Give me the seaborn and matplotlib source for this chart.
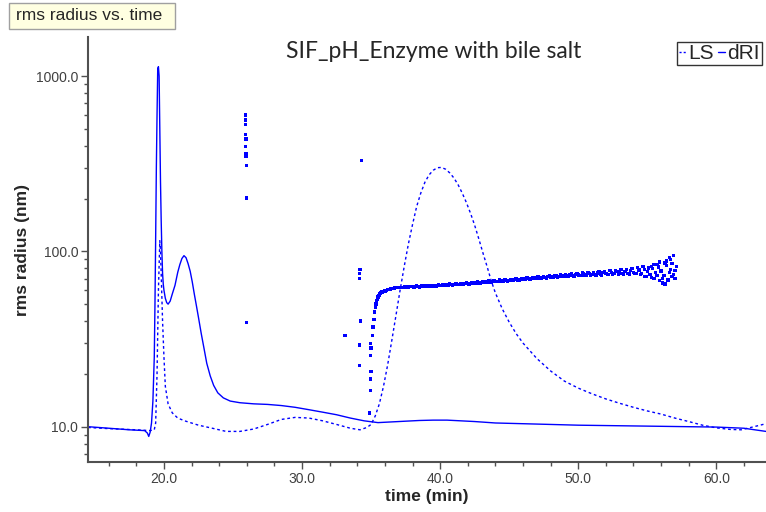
import numpy as np
import pandas as pd
import matplotlib
matplotlib.use("Agg")
import matplotlib.pyplot as plt
import seaborn as sns
from matplotlib.ticker import MultipleLocator, FuncFormatter, LogLocator, NullFormatter
from matplotlib.lines import Line2D
from matplotlib.patches import Rectangle

sns.set_style("ticks")
plt.rcParams['font.family'] = ['Liberation Sans', 'DejaVu Sans']

# ---------------- data ----------------
dri_time = [14.5, 16.0, 17.5, 18.6, 18.8, 18.9, 19.0, 19.1, 19.2, 19.3, 19.35, 19.4, 19.45,
            19.5, 19.55, 19.6, 19.65, 19.7, 19.75, 19.8, 19.85, 19.9, 19.95, 20.0, 20.1,
            20.2, 20.3, 20.45, 20.6, 20.8, 21.0, 21.15, 21.3, 21.45, 21.6, 21.75, 21.9,
            22.05, 22.2, 22.35, 22.5, 22.7, 22.9, 23.1, 23.35, 23.6, 23.9, 24.3, 24.8,
            25.5, 26.5, 27.5, 28.5, 29.5, 30.5, 31.5, 32.5, 33.5, 34.5, 35.5, 36.5,
            37.5, 38.5, 39.5, 40.5, 41.5, 42.5, 44.0, 46.0, 48.0, 50.0, 52.0, 54.0, 56.0,
            58.0, 60.0, 62.0, 63.6]
dri_value = [10.0, 9.8, 9.6, 9.5, 9.2, 8.8, 9.3, 10.5, 14.0, 25.0, 50.0, 120.0, 300.0,
             600.0, 1100.0, 1130.0, 1000.0, 500.0, 250.0, 150.0, 100.0, 75.0, 65.0, 60.0, 54.0,
             51.0, 50.0, 52.0, 57.0, 64.0, 76.0, 84.0, 91.0, 94.5, 92.0, 85.0, 77.0,
             67.0, 57.0, 49.0, 42.0, 34.0, 28.0, 23.0, 19.5, 17.2, 15.6, 14.6, 14.0,
             13.7, 13.5, 13.4, 13.2, 12.9, 12.5, 12.1, 11.7, 11.2, 10.8, 10.55, 10.65,
             10.75, 10.85, 10.9, 10.9, 10.8, 10.7, 10.5, 10.4, 10.3, 10.2, 10.15, 10.1, 10.05,
             10.0, 9.95, 9.8, 9.4]

ls_time = [14.5, 16.0, 18.0, 19.0, 19.3, 19.4, 19.5, 19.6, 19.7, 19.75, 19.8, 19.9, 20.0,
           20.1, 20.3, 20.6, 21.0, 21.5, 22.5, 23.5, 24.5, 25.5, 26.5, 27.5, 28.5, 29.5,
           30.5, 31.5, 32.5, 33.5, 34.2, 34.7, 35.0, 35.3, 35.6, 35.9, 36.2, 36.5, 36.8,
           37.1, 37.4, 37.7, 38.0, 38.3, 38.6, 38.9, 39.2, 39.5, 39.8, 40.1, 40.4, 40.7,
           41.0, 41.3, 41.6, 41.9, 42.2, 42.5, 42.8, 43.1, 43.4, 43.7, 44.0, 44.5, 45.0,
           45.5, 46.0, 47.0, 48.0, 49.0, 50.0, 51.0, 52.0, 53.0, 54.0, 55.0, 56.0, 57.0,
           58.0, 59.0, 60.0, 61.0, 61.8, 62.5, 63.6]
ls_value = [9.9, 9.75, 9.6, 9.5, 9.6, 10.5, 20.0, 60.0, 115.0, 100.0, 75.0, 40.0, 25.0,
            17.0, 13.5, 12.0, 11.2, 10.8, 10.2, 9.8, 9.4, 9.4, 9.7, 10.3, 11.0, 11.3,
            11.2, 10.8, 10.3, 9.8, 9.6, 9.9, 10.3, 11.5, 13.5, 17.0, 22.5, 31.0, 43.0,
            60.0, 82.0, 110.0, 142.0, 180.0, 215.0, 248.0, 273.0, 290.0, 300.0, 301.0, 294.0, 280.0,
            262.0, 240.0, 215.0, 190.0, 165.0, 141.0, 118.0, 98.0, 82.0, 68.0, 58.0, 47.0, 39.5,
            34.0, 30.0, 24.5, 20.8, 18.2, 16.6, 15.4, 14.4, 13.6, 12.9, 12.3, 11.8, 11.2,
            10.7, 10.2, 9.85, 9.65, 9.6, 9.9, 10.4]

rms_time = [
    # isolated points
    25.92, 25.92, 25.92, 25.92, 25.94, 25.92, 25.94, 25.94, 25.96, 25.96, 25.96,
    34.30, 34.20, 34.15, 34.15, 34.25, 33.10, 34.15, 34.15,
    34.95, 35.00, 34.95, 35.00, 34.95, 34.95, 34.90,
    # onset
    35.10, 35.15, 35.20, 35.25, 35.30, 35.35, 35.40, 35.45, 35.50, 35.55, 35.60, 35.65,
    35.70, 35.80, 35.90, 36.00, 36.10, 36.20, 36.30, 36.40, 36.50, 36.60, 36.70, 36.80,
    36.90, 37.00, 37.10,
    # main band, row 1
    37.2, 37.4, 37.6, 37.8, 38.0, 38.2, 38.4, 38.6, 38.8, 39.0,
    39.2, 39.4, 39.6, 39.8, 40.0, 40.2, 40.4, 40.6, 40.8, 41.0,
    41.2, 41.4, 41.6, 41.8, 42.0, 42.2, 42.4, 42.6, 42.8, 43.0,
    43.2, 43.4, 43.6, 43.8, 44.0, 44.2, 44.4, 44.6, 44.8, 45.0,
    45.2, 45.4, 45.6, 45.8, 46.0, 46.2, 46.4, 46.6, 46.8, 47.0,
    47.2, 47.4, 47.6, 47.8, 48.0, 48.2, 48.4, 48.6, 48.8, 49.0,
    49.2, 49.4, 49.6, 49.8, 50.0, 50.2, 50.4, 50.6, 50.8, 51.0,
    51.2, 51.4, 51.6, 51.8, 52.0, 52.2, 52.4, 52.6, 52.8, 53.0,
    53.2, 53.4, 53.6, 53.8, 54.0, 54.2, 54.4, 54.6, 54.8, 55.0,
    55.2, 55.4, 55.6, 55.8, 56.0, 56.2, 56.4, 56.6, 56.8, 57.0,
    # main band, row 2
    37.3, 37.5, 37.7, 37.9, 38.1, 38.3, 38.5, 38.7, 38.9, 39.1,
    39.3, 39.5, 39.7, 39.9, 40.1, 40.3, 40.5, 40.7, 40.9, 41.1,
    41.3, 41.5, 41.7, 41.9, 42.1, 42.3, 42.5, 42.7, 42.9, 43.1,
    43.3, 43.5, 43.7, 43.9, 44.1, 44.3, 44.5, 44.7, 44.9, 45.1,
    45.3, 45.5, 45.7, 45.9, 46.1, 46.3, 46.5, 46.7, 46.9, 47.1,
    47.3, 47.5, 47.7, 47.9, 48.1, 48.3, 48.5, 48.7, 48.9, 49.1,
    49.3, 49.5, 49.7, 49.9, 50.1, 50.3, 50.5, 50.7, 50.9, 51.1,
    51.3, 51.5, 51.7, 51.9, 52.1, 52.3, 52.5, 52.7, 52.9, 53.1,
    53.3, 53.5, 53.7, 53.9, 54.1, 54.3, 54.5, 54.7, 54.9, 55.1,
    55.3, 55.5, 55.7, 55.9, 56.1, 56.3, 56.5, 56.7, 56.9,
    # scatter at the end
    55.5, 55.9, 56.1, 56.4, 56.6, 56.8, 57.0, 56.9, 55.7, 56.3, 57.1, 54.8, 55.3, 56.7, 56.5]
rms_radius = [
    600, 560, 527, 464, 437, 397, 362, 348, 308, 202, 39.4,
    329, 79, 75, 70, 40, 33.2, 29.2, 22.3,
    29.8, 28.1, 25.4, 20.7, 18.7, 16.1, 12.0,
    33, 37, 41, 45, 48, 50, 52, 53.5, 55, 56, 56.5, 57.5,
    57.8, 58.5, 59, 59.5, 60, 60.5, 60.8, 61, 61.3, 61.5, 61.8, 62,
    62.1, 62.2, 62.3,
    62.4, 62.6, 62.5, 62.8, 62.8, 62.9, 63.1, 63.0, 63.3, 63.4,
    63.6, 63.5, 63.8, 64.0, 64.1, 64.2, 64.5, 64.3, 64.7, 64.8,
    65.0, 64.9, 65.3, 65.4, 65.6, 65.7, 66.0, 65.9, 66.3, 66.5,
    66.6, 66.9, 66.8, 67.3, 67.4, 67.5, 67.9, 67.8, 68.3, 68.4,
    68.5, 68.9, 68.7, 69.3, 69.4, 69.4, 70.0, 69.8, 70.4, 70.4,
    70.4, 71.2, 70.8, 71.6, 71.5, 71.4, 72.3, 71.9, 72.8, 72.5,
    72.4, 73.4, 72.8, 73.9, 73.3, 73.0, 74.3, 73.4, 74.9, 74.0,
    73.6, 75.2, 74.1, 75.8, 74.7, 74.0, 76.0, 74.6, 76.8, 75.3,
    74.5, 77.0, 75.0, 77.8, 75.9, 75.0, 78.2, 74.5, 79.0, 76.5,
    74.0, 80.0, 75.5, 81.5, 77.1, 73.0, 83.0, 76.0, 85.0, 77.7,
    62.0, 63.0, 62.3, 63.2, 62.6, 63.4, 62.7, 63.6, 63.0, 63.8,
    63.2, 64.1, 63.5, 64.4, 63.8, 64.8, 64.0, 65.1, 64.4, 65.5,
    64.6, 65.8, 65.0, 66.2, 65.3, 66.5, 65.6, 66.9, 66.0, 67.2,
    66.3, 67.6, 66.7, 68.0, 67.1, 68.5, 67.4, 68.8, 67.9, 69.2,
    68.2, 69.6, 68.6, 70.0, 69.0, 70.6, 69.2, 70.9, 69.8, 71.4,
    70.2, 72.0, 70.6, 72.4, 71.0, 73.0, 71.2, 73.4, 71.8, 73.8,
    72.0, 74.4, 72.4, 74.8, 72.8, 75.3, 72.6, 75.6, 73.0, 76.0,
    73.0, 76.4, 73.4, 77.0, 73.8, 77.5, 73.5, 78.0, 74.0, 78.6,
    73.8, 79.0, 74.2, 80.0, 74.6, 81.0, 73.5, 82.0, 72.0, 80.5,
    71.0, 84.0, 73.0, 87.0, 70.0, 86.0, 69.0, 90.0, 74.0,
    70, 68, 66, 88, 92, 72, 70, 95, 84, 65, 82, 72, 82, 79, 68.5]

y_ticks = [10.0, 100.0, 1000.0]
legend_labels = ["LS", "dRI"]
title_text = "SIF_pH_Enzyme with bile salt"
panel_label = "rms radius vs. time"
x_label = "time (min)"
y_label = "rms radius (nm)"

dri_df = pd.DataFrame({"time": dri_time, "value": dri_value})
ls_df = pd.DataFrame({"time": ls_time, "value": ls_value})
rms_df = pd.DataFrame({"time": rms_time, "radius": rms_radius})

# ---------------- figure ----------------
W, H = 766, 512
fig = plt.figure(figsize=(W / 100, H / 100), dpi=100)
ax = fig.add_axes([88 / W, 50 / H, (W - 88) / W, 425 / H])
ax.set_yscale("log")

BLUE = "#0000ff"
sns.lineplot(data=dri_df, x="time", y="value", ax=ax, color=BLUE, lw=1.0,
             estimator=None, sort=False)
sns.lineplot(data=ls_df, x="time", y="value", ax=ax, color=BLUE, lw=1.0,
             linestyle=(0, (2, 2)), estimator=None, sort=False)
sns.scatterplot(data=rms_df, x="time", y="radius", ax=ax, color=BLUE, marker="s",
                s=6, linewidth=0, edgecolor="none")

ax.set_xlim(14.5, 63.6)
ax.set_ylim(6.29, 1669)

ax.xaxis.set_major_locator(MultipleLocator(10))
ax.xaxis.set_minor_locator(MultipleLocator(2))
ax.xaxis.set_major_formatter(FuncFormatter(lambda v, p: f"{v:.1f}"))
ax.set_yticks(y_ticks)
ax.yaxis.set_major_formatter(FuncFormatter(lambda v, p: f"{v:.1f}"))
ax.yaxis.set_minor_locator(LogLocator(base=10, subs=np.arange(2, 10)))
ax.yaxis.set_minor_formatter(NullFormatter())

GRAY = "#505050"
for side in ["top", "right"]:
    ax.spines[side].set_visible(False)
for side in ["left", "bottom"]:
    ax.spines[side].set_color(GRAY)
    ax.spines[side].set_linewidth(1.5)
ax.tick_params(which="major", length=5, width=1, color=GRAY, labelcolor="#404040",
               labelsize=10, pad=2)
ax.tick_params(which="minor", length=3, width=1, color=GRAY)

ax.set_xlabel(x_label, fontsize=12.5, fontweight="bold", labelpad=2)
ax.set_ylabel(y_label, fontsize=12.5, fontweight="bold", labelpad=4)

# legend
handles = [Line2D([], [], color=BLUE, lw=1, ls=(0, (1.5, 1.5))),
           Line2D([], [], color=BLUE, lw=1)]
leg = ax.legend(handles, legend_labels, ncol=2, loc="upper right",
                bbox_to_anchor=(762 / W, 1 - 42 / H), bbox_transform=fig.transFigure,
                frameon=True, fancybox=False, edgecolor="black", handlelength=0.35,
                handletextpad=0.1, columnspacing=0.2, borderpad=0.1, borderaxespad=0,
                fontsize=15)
leg.get_frame().set_linewidth(1.0)

# title
fig.text(434 / W, 1 - 52 / H, title_text, ha="center", va="center", fontsize=16.5,
         family=["Lato", "DejaVu Sans"])

# panel label box
fig.patches.append(Rectangle((9 / W, 1 - 29 / H), 166 / W, 26 / H, transform=fig.transFigure,
                             facecolor="#ffffe1", edgecolor="#a0a0a0", lw=1))
fig.text(16 / W, 1 - 16 / H, panel_label, ha="left", va="center", fontsize=12.5)

fig.savefig("out.png", dpi=100)
